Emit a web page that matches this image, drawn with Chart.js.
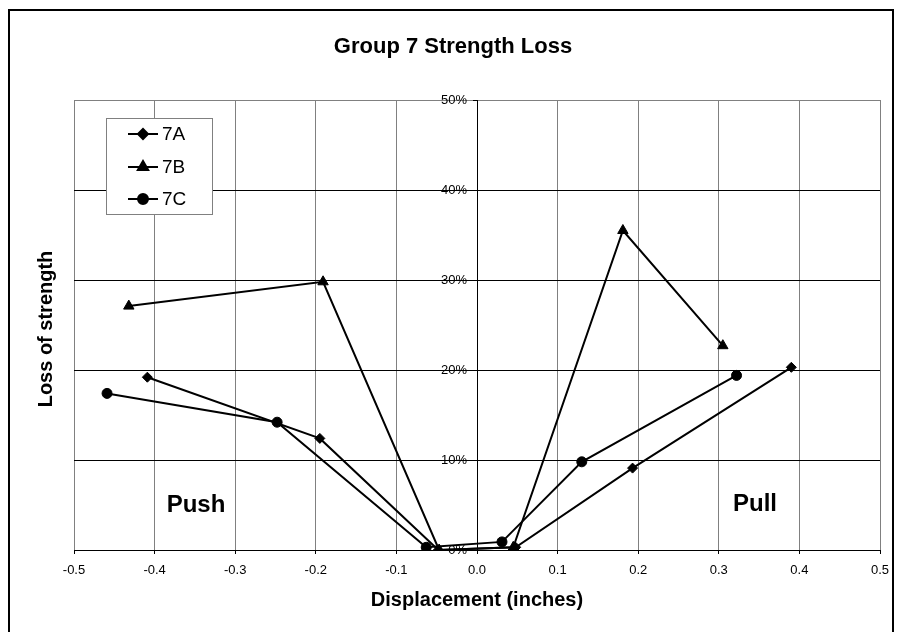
<!DOCTYPE html>
<html>
<head>
<meta charset="utf-8">
<title>Group 7 Strength Loss</title>
<script src="https://cdn.jsdelivr.net/npm/chart.js@4.4.0/dist/chart.umd.min.js"></script>
<style>
  body { margin: 0; background: #fff; }
  canvas { display: block; }
</style>
</head>
<body>
<canvas id="lossChart" width="906" height="632"></canvas>
<script>
// data (displacement in inches, loss in %)
const seriesNames = ['7A', '7B', '7C'];
const dispA = [-0.409, -0.195, -0.048, 0.048, 0.193, 0.390];
const lossA = [19.2, 12.4, 0.0, 0.3, 9.1, 20.3];
const dispB = [-0.432, -0.191, -0.047, 0.045, 0.181, 0.305];
const lossB = [27.1, 29.8, 0.0, 0.3, 35.5, 22.7];
const dispC = [-0.459, -0.248, -0.063, 0.031, 0.130, 0.322];
const lossC = [17.4, 14.2, 0.3, 0.9, 9.8, 19.4];
const xTicks = [-0.5, -0.4, -0.3, -0.2, -0.1, 0.0, 0.1, 0.2, 0.3, 0.4, 0.5];
const yTicks = [0, 10, 20, 30, 40, 50];

const FONT = 'Arial, "Liberation Sans", sans-serif';

function toPoints(xs, ys) {
  return xs.map((x, i) => ({ x: x, y: ys[i] }));
}

// frame, titles, Push/Pull labels and the boxed legend
const extras = {
  id: 'extras',
  beforeDraw(chart) {
    const ctx = chart.ctx;
    ctx.save();
    ctx.fillStyle = '#fff';
    ctx.fillRect(0, 0, chart.width, chart.height);
    ctx.restore();
  },
  afterDraw(chart) {
    const ctx = chart.ctx;
    ctx.save();
    // outer frame
    ctx.strokeStyle = '#000';
    ctx.lineWidth = 2;
    ctx.strokeRect(9, 10, 884, 640);

    ctx.fillStyle = '#000';
    ctx.textAlign = 'center';
    ctx.textBaseline = 'middle';
    ctx.font = 'bold 22px ' + FONT;
    ctx.fillText('Group 7 Strength Loss', 453, 47);

    ctx.font = 'bold 24px ' + FONT;
    ctx.fillText('Push', 196, 505);
    ctx.fillText('Pull', 755, 504);

    ctx.save();
    ctx.translate(46, 329);
    ctx.rotate(-Math.PI / 2);
    ctx.font = 'bold 20px ' + FONT;
    ctx.fillText('Loss of strength', 0, 0);
    ctx.restore();

    // legend box
    ctx.fillStyle = '#fff';
    ctx.fillRect(106, 118, 106, 96);
    ctx.strokeStyle = '#808080';
    ctx.lineWidth = 1;
    ctx.strokeRect(106.5, 118.5, 106, 96);
    const rows = [134, 167, 199];
    chart.data.datasets.forEach((ds, i) => {
      const y = rows[i];
      ctx.strokeStyle = '#000';
      ctx.lineWidth = 2;
      ctx.beginPath();
      ctx.moveTo(128, y);
      ctx.lineTo(158, y);
      ctx.stroke();
      ctx.fillStyle = '#000';
      Chart.helpers.drawPoint(ctx, {
        pointStyle: ds.pointStyle, radius: ds.pointRadius, borderWidth: 1
      }, 143, y);
      ctx.fillStyle = '#000';
      ctx.textAlign = 'left';
      ctx.textBaseline = 'middle';
      ctx.font = '19px ' + FONT;
      ctx.fillText(ds.label, 162, y + 1);
    });
    ctx.restore();
  }
};

const lossCtx = document.getElementById('lossChart').getContext('2d');
const lossChart = new Chart(lossCtx, {
  type: 'scatter',
  data: {
    datasets: [
      {
        label: seriesNames[0],
        data: toPoints(dispA, lossA),
        showLine: true,
        borderColor: '#000',
        backgroundColor: '#000',
        borderWidth: 2,
        pointStyle: 'rectRot',
        pointRadius: 5,
        pointBorderWidth: 1
      },
      {
        label: seriesNames[1],
        data: toPoints(dispB, lossB),
        showLine: true,
        borderColor: '#000',
        backgroundColor: '#000',
        borderWidth: 2,
        pointStyle: 'triangle',
        pointRadius: 6,
        pointBorderWidth: 1
      },
      {
        label: seriesNames[2],
        data: toPoints(dispC, lossC),
        showLine: true,
        borderColor: '#000',
        backgroundColor: '#000',
        borderWidth: 2,
        pointStyle: 'circle',
        pointRadius: 5,
        pointBorderWidth: 1
      }
    ]
  },
  options: {
    responsive: false,
    animation: false,
    layout: {
      padding: { left: 74, right: 26, top: 100, bottom: 0 }
    },
    plugins: {
      legend: { display: false },
      title: { display: false },
      tooltip: { enabled: false }
    },
    scales: {
      x: {
        type: 'linear',
        position: 'bottom',
        min: xTicks[0],
        max: xTicks[xTicks.length - 1],
        afterBuildTicks: function(scale) {
          scale.ticks = xTicks.map(v => ({ value: v }));
        },
        afterFit: function(scale) { scale.height = 82; },
        ticks: {
          color: '#000',
          font: { family: FONT, size: 13 },
          padding: 9,
          maxRotation: 0,
          callback: function(value) { return Number(value).toFixed(1); }
        },
        grid: {
          color: '#808080',
          lineWidth: 1,
          tickLength: 4,
          tickColor: '#000'
        },
        border: { color: '#000', width: 1 },
        title: {
          display: true,
          text: 'Displacement (inches)',
          color: '#000',
          font: { family: FONT, size: 20, weight: 'bold' },
          padding: { top: 0, bottom: 20 }
        }
      },
      y: {
        type: 'linear',
        // x range is symmetric, so the centre is x = 0
        position: 'center',
        min: yTicks[0],
        max: yTicks[yTicks.length - 1],
        afterBuildTicks: function(scale) {
          scale.ticks = yTicks.map(v => ({ value: v }));
        },
        ticks: {
          color: '#000',
          font: { family: FONT, size: 13 },
          padding: 6,
          callback: function(value) { return value + '%'; }
        },
        grid: {
          color: function(c) {
            return c.tick && c.tick.value === 50 ? '#808080' : '#000';
          },
          lineWidth: 1,
          tickLength: 4,
          tickColor: '#000'
        },
        border: { color: '#000', width: 1 }
      }
    }
  },
  plugins: [extras]
});
</script>
</body>
</html>
